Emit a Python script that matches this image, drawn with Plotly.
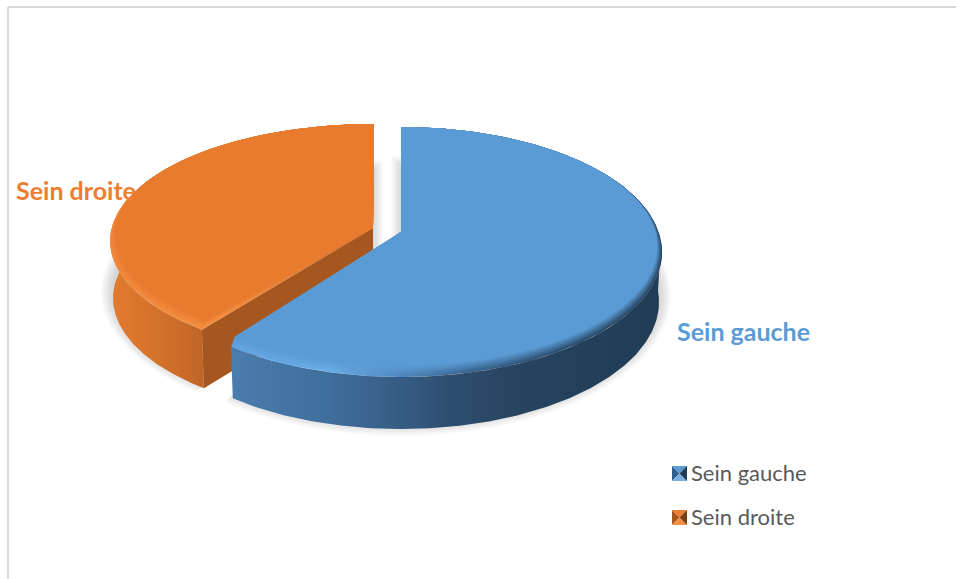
import numpy as np
import plotly.graph_objects as go

# Chart data
categories = ["Sein gauche", "Sein droite"]
shares = [61.3, 38.7]
label_colors = ["#5b9bd5", "#ed7d31"]
text_grey = "#595959"

WIDTH, HEIGHT = 956, 579
# Projected disc geometry of each slice: ellipse centre, radii, apex and wall depth
blue_disc = dict(cx=401, cy=252, rx=261, ry=125, ax=401, ay=232, depth=50)
orange_disc = dict(cx=374, cy=241, rx=264, ry=117, ax=373, ay=228, depth=57)

sweep = [s / sum(shares) * 360 for s in shares]
blue_span = (0.0, sweep[0])
orange_span = (sweep[0], 360.0)


def arc(d, t0, t1, dy=0.0, shrink_x=0.0, lift=0.0, n=160):
    """Points on a disc rim, angles clockwise from twelve o'clock."""
    t = np.radians(np.linspace(t0, t1, n))
    rx = d["rx"] - shrink_x
    ry = d["ry"] - lift / 2
    return d["cx"] + rx * np.sin(t), d["cy"] - lift / 2 + dy - ry * np.cos(t)


def lower_rim(d):
    # the lower rim is slightly narrower and rounder because of the perspective
    return dict(d, rx=d["rx"] - 3, ry=d["ry"] + 2)


def horizontal(stops, start, stop):
    scale = [[(x - start) / (stop - start), c] for x, c in stops]
    return dict(type="horizontal", colorscale=scale, start=start, stop=stop)


def mix(a, b, f):
    ca = np.array([int(a[i:i + 2], 16) for i in (1, 3, 5)])
    cb = np.array([int(b[i:i + 2], 16) for i in (1, 3, 5)])
    c = (ca + (cb - ca) * f).round().astype(int)
    return "#%02x%02x%02x" % tuple(c)


fig = go.Figure()


def poly(x, y, name, color=None, gradient=None):
    kw = dict(fillcolor=color) if gradient is None else dict(fillgradient=gradient)
    fig.add_trace(go.Scatter(x=list(x), y=list(y), mode="lines", fill="toself", name=name,
                             line=dict(width=0), hoverinfo="skip", **kw))


def shadow(d, span, name, side, layers=9, reach=11):
    """Stacked translucent wedges; side pushes the straight edge into the gap between slices."""
    for i in range(layers):
        grow = reach * (1 - i / (layers - 1))
        s = dict(d, rx=d["rx"] + grow - 2, ry=d["ry"] + grow + 4, cy=d["cy"] + d["depth"] - 6)
        x, y = arc(s, *span)
        edge = d["ax"] + side * grow * 0.9
        if side < 0:
            x, y = np.r_[edge, edge, x], np.r_[d["ay"] + 40, y[0], y]
        else:
            x, y = np.r_[x, edge, edge], np.r_[y, y[-1], d["ay"] + 40]
        poly(x, y, name, color="rgba(120,120,120,0.04)")


def wall(d, t0, t1, name, stops, x0, x1):
    xt, yt = arc(d, t0, t1)
    xb, yb = arc(lower_rim(d), t0, t1, dy=d["depth"])
    poly(np.r_[xt, xb[::-1]], np.r_[yt, yb[::-1]], name, gradient=horizontal(stops, x0, x1))


def top_face(d, span, name, face, rim_stops, x0, x1, width=11, layers=12):
    """Stacked wedges whose front edge recedes, so the rim blends softly into the face."""
    for i in range(layers):
        f = i / (layers - 1)
        lift = width * f
        x, y = arc(d, *span, lift=lift, shrink_x=lift * 0.45)
        stops = [(p, mix(c, face, f)) for p, c in rim_stops]
        poly(np.r_[d["ax"], x], np.r_[d["ay"], y], name, gradient=horizontal(stops, x0, x1))


# Soft ground shadows
shadow(orange_disc, orange_span, categories[1], 1)
shadow(blue_disc, blue_span, categories[0], -1)

# Orange slice: outer wall, cut face, then top
wall(orange_disc, orange_span[0], 292, categories[1],
     [(110, "#e27b2f"), (160, "#d37129"), (210, "#bd6427")], 110, 210)
cx, cy = arc(orange_disc, orange_span[0], orange_span[0], n=1)
bx, by = arc(lower_rim(orange_disc), orange_span[0], orange_span[0], dy=orange_disc["depth"], n=1)
poly([orange_disc["ax"], cx[0], bx[0], orange_disc["ax"]],
     [orange_disc["ay"], cy[0], by[0], orange_disc["ay"] + orange_disc["depth"]],
     categories[1], color="#a5571f")
top_face(orange_disc, orange_span, categories[1], "#e97b2f",
         [(100, "#f08a3c"), (220, "#f59142"), (380, "#c86f2b")], 100, 380)

# Blue slice: outer wall, then top
wall(blue_disc, 85, blue_span[1], categories[0],
     [(231, "#4a7cad"), (330, "#3f6e9c"), (400, "#365c84"), (450, "#2e4e70"),
      (520, "#264460"), (660, "#203c55")], 231, 660)
top_face(blue_disc, blue_span, categories[0], "#5b9bd5",
         [(231, "#5fa3e2"), (330, "#6aaee8"), (400, "#4f86bb"), (470, "#37618a"),
          (560, "#2a4b6a"), (662, "#25425d")], 231, 662)

shapes = [
    # Chart frame
    dict(type="line", x0=8, x1=8, y0=7, y1=HEIGHT, line=dict(color="#d9d9d9", width=2)),
    dict(type="line", x0=8, x1=WIDTH, y0=7, y1=7, line=dict(color="#d9d9d9", width=2)),
]

# Legend keys: four bevelled facets per swatch
key_facets = [
    [("#2f5f8f", "L"), ("#5b9bd5", "T"), ("#7ab0e0", "B"), ("#1f3a55", "R")],
    [("#a5571f", "L"), ("#ed7d31", "T"), ("#f0913f", "B"), ("#7a3f16", "R")],
]
key_tops = [466, 510]
key_x, key_size = 672, 15
for facets, top in zip(key_facets, key_tops):
    l, r, t, b = key_x, key_x + key_size, top, top + key_size
    mx, my = (l + r) / 2, (t + b) / 2
    corners = {"L": (l, t, l, b), "T": (l, t, r, t), "B": (l, b, r, b), "R": (r, t, r, b)}
    for color, side in facets:
        a, c, e, g = corners[side]
        shapes.append(dict(type="path", path=f"M{a},{c} L{e},{g} L{mx},{my} Z",
                           fillcolor=color, line=dict(width=0)))

annotations = [
    dict(x=14, y=190, text=f"<b>{categories[1]}</b>", showarrow=False, xanchor="left", yanchor="middle",
         font=dict(family="Lato", size=25, color=label_colors[1])),
    dict(x=675, y=331, text=f"<b>{categories[0]}</b>", showarrow=False, xanchor="left", yanchor="middle",
         font=dict(family="Lato", size=25, color=label_colors[0])),
]
for name, top in zip(categories, key_tops):
    annotations.append(dict(x=689, y=top + 6.5, text=name, showarrow=False, xanchor="left", yanchor="middle",
                            font=dict(family="Lato", size=22, color=text_grey)))

fig.update_layout(
    width=WIDTH, height=HEIGHT, margin=dict(l=0, r=0, t=0, b=0),
    paper_bgcolor="white", plot_bgcolor="white", showlegend=False,
    xaxis=dict(range=[0, WIDTH], visible=False, fixedrange=True),
    yaxis=dict(range=[HEIGHT, 0], visible=False, fixedrange=True),
    shapes=shapes, annotations=annotations,
)
fig.write_html("out.html", config=dict(displayModeBar=False))
